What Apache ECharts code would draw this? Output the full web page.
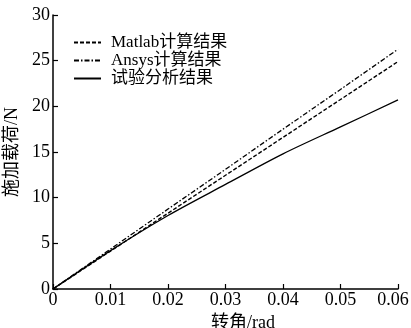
<!DOCTYPE html>
<html><head><meta charset="utf-8">
<script src="https://cdn.jsdelivr.net/npm/echarts@6/dist/echarts.min.js"></script>
<style>html,body{margin:0;padding:0;background:#fff}#c{width:411px;height:328px}</style>
</head><body><div id="c"></div>
<script>
const angles = [0, 0.01, 0.02, 0.03, 0.04, 0.05, 0.06];
const matlabVals = [0, 4.15, 8.3, 12.45, 16.6, 20.75, 24.9];
const ansysVals = [0, 4.38, 8.75, 13.1, 17.5, 21.85, 26.25];
const testVals = [0, 4.2, 8.05, 11.45, 14.8, 17.75, 20.7];
const seriesNames = ['Matlab计算结果', 'Ansys计算结果', '试验分析结果'];
const xTicks = [0, 0.01, 0.02, 0.03, 0.04, 0.05, 0.06];
const yTicks = [0, 5, 10, 15, 20, 25, 30];

const FONT = '"Liberation Serif","Noto Sans CJK SC",serif';
const pair = (xs, ys) => xs.map((x, i) => [x, ys[i]]);
const chart = echarts.init(document.getElementById('c'));
chart.setOption({
  animation: false,
  backgroundColor: '#fff',
  grid: {left: 53, right: 13, top: 15, bottom: 39, outerBoundsMode: 'none', containLabel: false},
  legend: {
    orient: 'vertical', left: 68, top: 29, itemWidth: 27, itemHeight: 10, itemGap: 1,
    itemStyle: {opacity: 0},
    textStyle: {fontFamily: FONT, fontSize: 17, color: '#000', padding: [0, 0, 0, 5]},
    data: seriesNames
  },
  xAxis: {
    type: 'value', min: 0, max: 0.06, interval: 0.01,
    name: '转角/rad', nameLocation: 'middle', nameGap: 19,
    nameTextStyle: {fontFamily: FONT, fontSize: 18, color: '#000', padding: [0, 0, 0, 35]},
    axisLine: {lineStyle: {color: '#000', width: 1.5}},
    axisTick: {inside: true, length: 5, lineStyle: {color: '#000', width: 1.2}},
    axisLabel: {fontFamily: FONT, fontSize: 18, color: '#000', margin: 2,
      formatter: v => (v === 0 ? '0' : (v >= 0.0599 ? '{last|' + v.toFixed(2) + '}' : v.toFixed(2))),
      rich: {last: {fontFamily: FONT, fontSize: 18, color: '#000', padding: [0, 10, 0, 0]}}},
    splitLine: {show: false}
  },
  yAxis: {
    type: 'value', min: 0, max: 30, interval: 5,
    name: '施加载荷/N', nameLocation: 'middle', nameGap: 30, nameRotate: 90,
    nameTextStyle: {fontFamily: FONT, fontSize: 18, color: '#000'},
    axisLine: {show: true, lineStyle: {color: '#000', width: 1.5}},
    axisTick: {show: true, inside: true, length: 5, lineStyle: {color: '#000', width: 1.2}},
    axisLabel: {fontFamily: FONT, fontSize: 18, color: '#000', margin: 3},
    splitLine: {show: false}
  },
  series: [
    {name: seriesNames[0], type: 'line', symbol: 'none', data: pair(angles, matlabVals),
     lineStyle: {color: '#000', width: 1.4, type: [4, 2]}, itemStyle: {color: '#000'}},
    {name: seriesNames[1], type: 'line', symbol: 'none', data: pair(angles, ansysVals),
     lineStyle: {color: '#000', width: 1.3, type: [5, 2, 1.5, 2]}, itemStyle: {color: '#000'}},
    {name: seriesNames[2], type: 'line', symbol: 'none', smooth: 0.3, data: pair(angles, testVals),
     lineStyle: {color: '#000', width: 1.3, type: 'solid'}, itemStyle: {color: '#000'}}
  ]
});
</script></body></html>
